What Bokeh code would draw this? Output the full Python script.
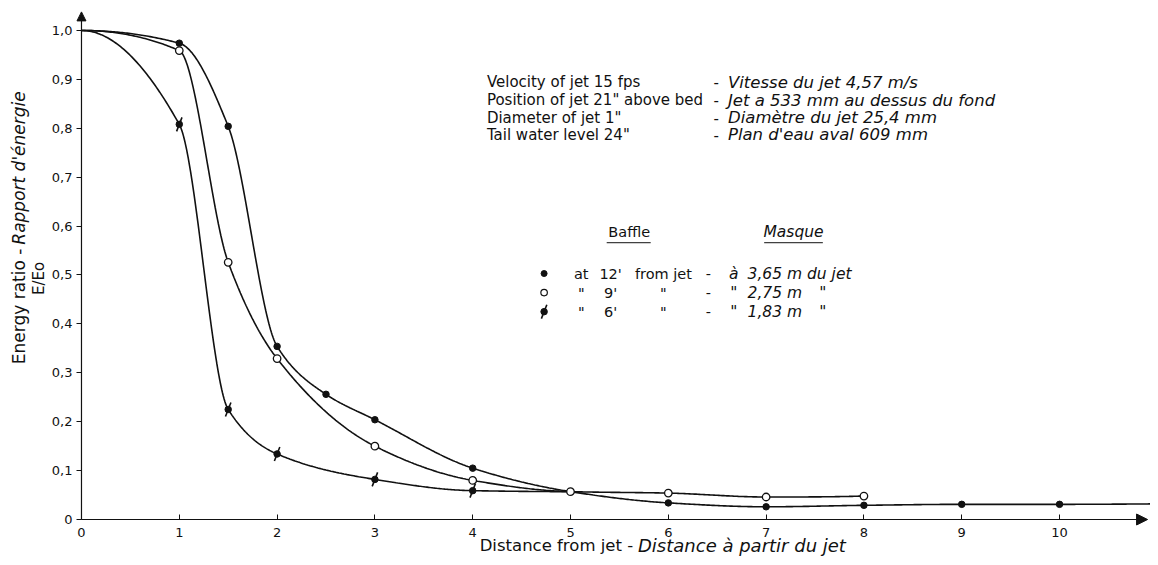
import numpy as np
from bokeh.plotting import figure
from bokeh.models import (Range1d, FixedTicker, Label, Arrow, NormalHead)
from bokeh.embed import file_html
from bokeh.resources import INLINE

# ---------------- data ----------------
ORIGIN_X = 0.0
ORIGIN_RATIO = 1.0          # every curve starts at E/Eo = 1 at the jet

# Baffle at 12' from jet (filled dots)
X12 = [1, 1.5, 2, 2.5, 3, 4, 5, 6, 7, 8, 9, 10, 11]
Y12 = [0.974, 0.804, 0.354, 0.256, 0.204, 0.105, 0.057, 0.034, 0.026, 0.029, 0.031, 0.031, 0.032]

# Baffle at 9' from jet (open circles)
X9 = [1, 1.5, 2, 3, 4, 5, 6, 7, 8]
Y9 = [0.959, 0.526, 0.329, 0.150, 0.080, 0.057, 0.054, 0.046, 0.048]

# Baffle at 6' from jet (slashed dots); the curve joins the others at x = 5
X6 = [1, 1.5, 2, 3, 4, 5]
Y6 = [0.808, 0.225, 0.134, 0.082, 0.059, 0.057]

X_TICKS = [0, 1, 2, 3, 4, 5, 6, 7, 8, 9, 10]
X_TICK_LABELS = ["0", "1", "2", "3", "4", "5", "6", "7", "8", "9", "10"]
Y_TICKS = [0.0, 0.1, 0.2, 0.3, 0.4, 0.5, 0.6, 0.7, 0.8, 0.9, 1.0]
Y_TICK_LABELS = ["0", "0,1", "0,2", "0,3", "0,4", "0,5", "0,6", "0,7", "0,8", "0,9", "1,0"]

INFO_EN = ["Velocity of jet 15 fps", "Position of jet 21\" above bed",
           "Diameter of jet 1\"", "Tail water level 24\""]
INFO_FR = ["Vitesse du jet 4,57 m/s", "Jet a 533 mm au dessus du fond",
           "Diamètre du jet 25,4 mm", "Plan d'eau aval 609 mm"]

LEG_A = ["at", "\"", "\""]
LEG_B = ["12'", "9'", "6'"]
LEG_C = ["from jet", "\"", "\""]
LEG_E = ["à", "\"", "\""]
LEG_F = ["3,65 m du jet", "2,75 m", "1,83 m"]
LEG_G = ["", "\"", "\""]

# ---------------- layout / style ----------------
X_START, X_END = -0.828, 10.93
Y_START, Y_END = -0.0777, 1.0613
X_ARROW_END = 10.90
Y_ARROW_END = 1.038
FONT = "DejaVu Sans"
INK = "#111111"
FS = "14.5px"
FS_IT = "15.5px"


def pchip(x, y, n=60):
    """Monotone cubic (Fritsch-Carlson) curve through the given points."""
    x = np.asarray(x, float)
    y = np.asarray(y, float)
    h = np.diff(x)
    d = np.diff(y) / h
    m = np.zeros_like(y)
    for k in range(1, len(x) - 1):
        if d[k - 1] * d[k] > 0:
            w1 = 2 * h[k] + h[k - 1]
            w2 = h[k] + 2 * h[k - 1]
            m[k] = (w1 + w2) / (w1 / d[k - 1] + w2 / d[k])
    def end(h0, h1, d0, d1):
        s = ((2 * h0 + h1) * d0 - h0 * d1) / (h0 + h1)
        if np.sign(s) != np.sign(d0):
            return 0.0
        if np.sign(d0) != np.sign(d1) and abs(s) > abs(3 * d0):
            return 3 * d0
        return s
    m[0] = end(h[0], h[1], d[0], d[1])
    m[-1] = end(h[-1], h[-2], d[-1], d[-2])
    xs, ys = [], []
    for k in range(len(x) - 1):
        t = np.linspace(0, 1, n, endpoint=(k == len(x) - 2))
        h00 = 2 * t**3 - 3 * t**2 + 1
        h10 = t**3 - 2 * t**2 + t
        h01 = -2 * t**3 + 3 * t**2
        h11 = t**3 - t**2
        xs.append(x[k] + t * h[k])
        ys.append(h00 * y[k] + h10 * h[k] * m[k] + h01 * y[k + 1] + h11 * h[k] * m[k + 1])
    return np.concatenate(xs), np.concatenate(ys)


p = figure(width=1150, height=557, output_backend="svg", toolbar_location=None,
           x_range=Range1d(X_START, X_END), y_range=Range1d(Y_START, Y_END),
           min_border=0)
p.outline_line_color = None
p.xgrid.visible = False
p.ygrid.visible = False
p.background_fill_color = "white"

# axes (drawn through the origin)
for ax in (p.xaxis[0], p.yaxis[0]):
    ax.fixed_location = 0
    ax.axis_line_color = None
    ax.minor_tick_line_color = None
    ax.major_tick_line_color = INK
    ax.major_tick_line_width = 1
    ax.major_label_text_font = FONT
    ax.major_label_text_font_size = "13px"
    ax.major_label_text_color = INK
p.xaxis.ticker = FixedTicker(ticks=X_TICKS)
p.xaxis.major_label_overrides = dict(zip(X_TICKS, X_TICK_LABELS))
p.xaxis.major_tick_in = 5
p.xaxis.major_tick_out = 0
p.xaxis.major_label_standoff = 8
p.yaxis.ticker = FixedTicker(ticks=Y_TICKS)
p.yaxis.major_label_overrides = dict(zip(Y_TICKS, Y_TICK_LABELS))
p.yaxis.major_tick_in = 0
p.yaxis.major_tick_out = 5
p.yaxis.major_label_standoff = 4

p.add_layout(Arrow(end=NormalHead(size=11, fill_color=INK, line_color=INK, line_width=1),
                   x_start=0, y_start=0, x_end=X_ARROW_END, y_end=0,
                   line_color=INK, line_width=1.2))
p.add_layout(Arrow(end=NormalHead(size=9, fill_color=INK, line_color=INK, line_width=1),
                   x_start=0, y_start=0, x_end=0, y_end=Y_ARROW_END,
                   line_color=INK, line_width=1.2))

# curves
for xs, ys in ((X12, Y12), (X9, Y9), (X6, Y6)):
    cx, cy = pchip([ORIGIN_X] + xs, [ORIGIN_RATIO] + ys)
    p.line(cx, cy, line_color=INK, line_width=1.6)

# markers
def slashed(xs, ys):
    p.scatter(xs, ys, marker="dash", size=15, angle=1.2, line_color=INK, line_width=1.6)
    p.scatter(xs, ys, marker="circle", size=6.5, fill_color=INK, line_color=INK)

slashed(X6[:-1], Y6[:-1])
p.scatter(X12, Y12, marker="circle", size=6.5, fill_color=INK, line_color=INK)
p.scatter(X9, Y9, marker="circle", size=7.5, fill_color="white", line_color=INK, line_width=1.3)


def lab(x, y, text, italic=False, align="left", angle=0.0, size=None):
    if size is None:
        size = FS_IT if italic else FS
    p.add_layout(Label(x=x, y=y, text=text, text_font=FONT, text_font_size=size,
                       text_font_style="italic" if italic else "normal",
                       text_color=INK, text_align=align, text_baseline="middle",
                       angle=angle))

# axis titles
lab(-0.634, 0.554, "Energy ratio -", align="right", angle=np.pi / 2, size="17px")
lab(-0.634, 0.562, " Rapport d'énergie", italic=True, align="left", angle=np.pi / 2, size="17px")
lab(-0.43, 0.493, "E/Eo", align="center", angle=np.pi / 2, size="15px")
lab(5.64, -0.053, "Distance from jet -", align="right", size="16.5px")
lab(5.69, -0.053, "Distance à partir du jet", italic=True, size="18px")

# info block
INFO_Y = [0.894, 0.857, 0.822, 0.787]
for yy, en, fr in zip(INFO_Y, INFO_EN, INFO_FR):
    lab(4.145, yy, en, size="15px")
    lab(6.49, yy, "-", align="center", size="15px")
    lab(6.61, yy, fr, italic=True, size="16.5px")

# legend block
lab(5.60, 0.587, "Baffle", align="center")
lab(7.28, 0.587, "Masque", italic=True, align="center")
p.segment(x0=[5.37, 6.98], y0=[0.566, 0.566], x1=[5.82, 7.58], y1=[0.566, 0.566],
          line_color=INK, line_width=1)
ROW_Y = [0.503, 0.464, 0.425]
MX = 4.73
p.scatter([MX], [ROW_Y[0]], marker="circle", size=6, fill_color=INK, line_color=INK)
p.scatter([MX], [ROW_Y[1]], marker="circle", size=6.5, fill_color="white", line_color=INK, line_width=1.2)
slashed([MX], [ROW_Y[2]])
for i, yy in enumerate(ROW_Y):
    lab(5.11, yy, LEG_A[i], align="center")
    lab(5.41, yy, LEG_B[i], align="center")
    lab(5.95, yy, LEG_C[i], align="center")
    lab(6.41, yy, "-", align="center")
    lab(6.67, yy, LEG_E[i], italic=True, align="center")
    lab(6.81, yy, LEG_F[i], italic=True)
    if LEG_G[i]:
        lab(7.58, yy, LEG_G[i], italic=True, align="center")

open("out.html", "w").write(file_html(p, INLINE))
